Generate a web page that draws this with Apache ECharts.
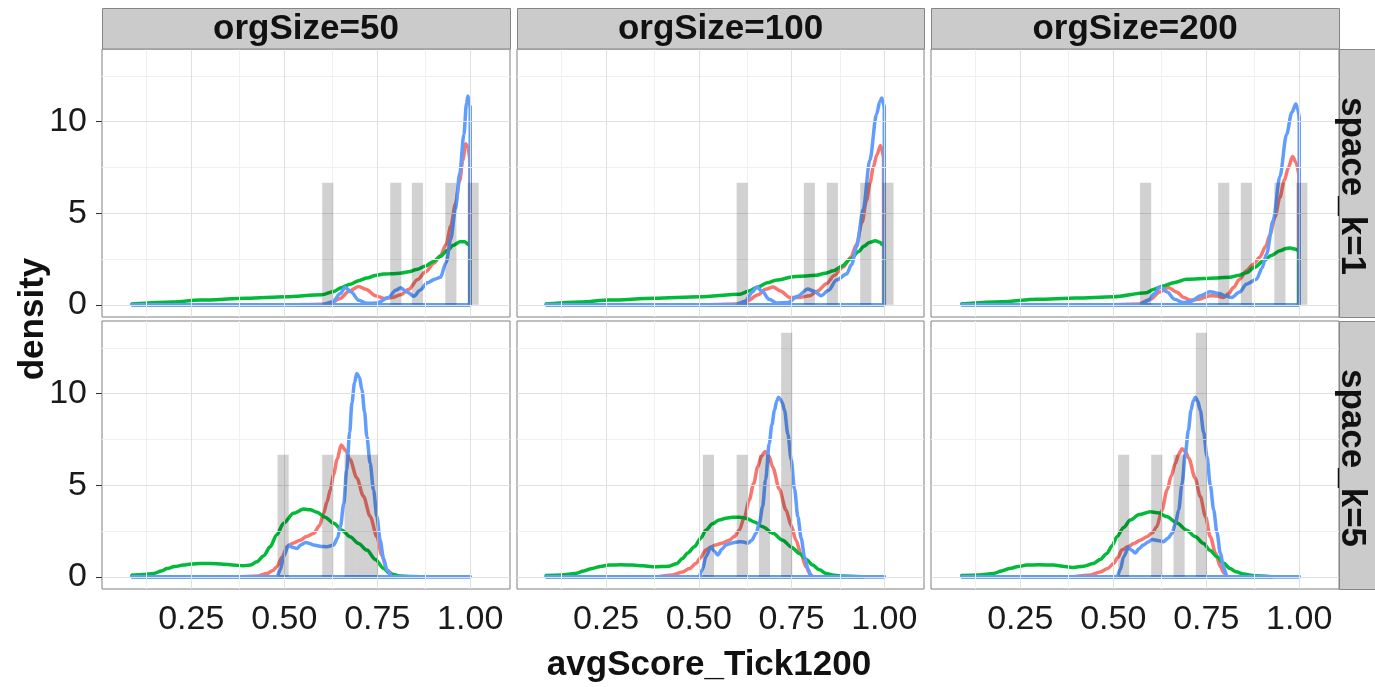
<!DOCTYPE html>
<html><head><meta charset="utf-8">
<script src="https://cdn.jsdelivr.net/npm/echarts@6/dist/echarts.min.js"></script>
<style>html,body{margin:0;padding:0;background:#fff}#c{width:1375px;height:687px}</style>
</head><body><div id="c"></div>
<script>
// ---------- labels / ticks ----------
const colLabels = ['orgSize=50', 'orgSize=100', 'orgSize=200'];
const rowLabels = ['space_k=1', 'space_k=5'];
const xTickValues = [0.25, 0.5, 0.75, 1.0];
const xTickLabels = ['0.25', '0.50', '0.75', '1.00'];
const xMinorValues = [0.125, 0.375, 0.625, 0.875];
const yTickValues = [0, 5, 10];
const yTickLabels = ['0', '5', '10'];
const yMinorValues = [2.5, 7.5, 12.5];
const xTitle = 'avgScore_Tick1200';
const yTitle = 'density';
const binWidth = 0.03;

// ---------- histogram bars: [bin centre, density] ----------
const bars_k1_50  = [[0.617,6.67],[0.800,6.67],[0.858,6.67],[0.948,6.67],[1.008,6.67]];
const bars_k1_100 = [[0.617,6.67],[0.798,6.67],[0.860,6.67],[0.950,6.67],[1.010,6.67]];
const bars_k1_200 = [[0.587,6.67],[0.797,6.67],[0.858,6.67],[0.948,6.67],[1.007,6.67]];
const bars_k5_50  = [[0.497,6.67],[0.617,6.67],[0.677,6.67],[0.707,6.67],[0.737,6.67]];
const bars_k5_100 = [[0.526,6.67],[0.617,6.67],[0.677,6.67],[0.737,13.33]];
const bars_k5_200 = [[0.528,6.67],[0.617,6.67],[0.677,6.67],[0.737,13.33]];

// ---------- density curves: [x, density] ----------
const red_k1_50 = [[0.534,0],[0.60,0.03],[0.625,0.1],[0.65,0.35],[0.675,0.75],[0.70,1.0],[0.72,0.85],[0.745,0.5],[0.77,0.35],[0.79,0.4],[0.813,0.55],[0.835,0.85],[0.858,1.37],[0.88,1.8],[0.903,2.28],[0.92,2.7],[0.935,3.3],[0.948,4.3],[0.96,5.5],[0.972,6.8],[0.98,7.9],[0.988,8.8],[0.994,8.6],[0.999,7.9]];
const green_k1_50 = [[0.091,0.04],[0.2,0.15],[0.274,0.26],[0.4,0.36],[0.503,0.44],[0.601,0.55],[0.633,0.73],[0.655,0.95],[0.677,1.13],[0.70,1.32],[0.722,1.46],[0.745,1.6],[0.767,1.68],[0.79,1.7],[0.811,1.73],[0.835,1.8],[0.856,1.93],[0.88,2.12],[0.901,2.37],[0.92,2.65],[0.937,2.95],[0.955,3.25],[0.973,3.45],[0.985,3.45],[0.995,3.3],[1.0,3.2]];
const blue_k1_50 = [[0.091,0],[0.60,0],[0.63,0.15],[0.65,0.6],[0.664,0.95],[0.68,0.7],[0.70,0.25],[0.722,0.08],[0.75,0.1],[0.78,0.4],[0.80,0.8],[0.813,0.93],[0.83,0.7],[0.849,0.47],[0.865,0.8],[0.885,1.2],[0.905,1.4],[0.92,1.5],[0.935,2.3],[0.948,3.6],[0.96,5.2],[0.972,7.2],[0.983,9.3],[0.99,11.0],[0.994,11.4],[0.998,10.9],[1.0,10.8]];

const red_k1_100 = [[0.529,0],[0.60,0.05],[0.63,0.2],[0.66,0.55],[0.68,0.85],[0.70,0.98],[0.72,0.75],[0.745,0.4],[0.77,0.4],[0.799,0.5],[0.82,0.75],[0.844,1.15],[0.865,1.6],[0.889,2.06],[0.91,2.6],[0.925,3.3],[0.94,4.5],[0.952,5.7],[0.962,6.7],[0.97,7.5],[0.98,8.2],[0.99,8.7],[0.998,8.05]];
const green_k1_100 = [[0.089,0.04],[0.18,0.15],[0.259,0.26],[0.38,0.36],[0.502,0.44],[0.611,0.58],[0.635,0.75],[0.656,0.95],[0.685,1.2],[0.71,1.35],[0.755,1.53],[0.79,1.58],[0.818,1.62],[0.84,1.72],[0.863,1.86],[0.885,2.1],[0.909,2.5],[0.93,2.9],[0.945,3.2],[0.96,3.4],[0.976,3.5],[0.988,3.42],[0.994,3.3],[1.0,3.25]];
const blue_k1_100 = [[0.089,0],[0.60,0],[0.625,0.2],[0.645,0.7],[0.656,0.98],[0.67,0.75],[0.69,0.3],[0.71,0.1],[0.74,0.12],[0.765,0.45],[0.794,0.86],[0.81,0.75],[0.83,0.5],[0.85,0.8],[0.871,1.35],[0.898,1.68],[0.912,2.2],[0.925,3.15],[0.943,5.2],[0.961,7.9],[0.979,10.4],[0.988,11.1],[0.993,11.3],[0.997,11.0],[1.0,10.8]];

const red_k1_200 = [[0.50,0],[0.57,0.05],[0.60,0.3],[0.625,0.7],[0.648,0.95],[0.67,0.7],[0.69,0.4],[0.706,0.26],[0.73,0.3],[0.76,0.5],[0.78,0.48],[0.796,0.4],[0.81,0.6],[0.823,0.95],[0.84,1.4],[0.858,1.86],[0.876,2.2],[0.894,2.6],[0.91,3.2],[0.921,3.8],[0.935,4.8],[0.948,5.86],[0.96,6.8],[0.971,7.5],[0.982,8.1],[0.991,7.8],[0.999,7.1]];
const green_k1_200 = [[0.093,0.04],[0.2,0.17],[0.295,0.3],[0.4,0.37],[0.50,0.44],[0.589,0.66],[0.61,0.85],[0.634,1.03],[0.665,1.22],[0.697,1.39],[0.742,1.44],[0.78,1.47],[0.814,1.51],[0.835,1.6],[0.858,1.75],[0.88,2.05],[0.903,2.39],[0.925,2.7],[0.948,2.95],[0.965,3.08],[0.975,3.1],[0.988,3.05],[0.999,2.95]];
const blue_k1_200 = [[0.093,0],[0.57,0],[0.595,0.25],[0.61,0.6],[0.626,0.98],[0.645,0.7],[0.665,0.3],[0.688,0.12],[0.71,0.2],[0.735,0.5],[0.76,0.72],[0.787,0.6],[0.80,0.5],[0.818,0.4],[0.84,0.7],[0.858,1.13],[0.885,1.39],[0.9,2.0],[0.912,2.76],[0.93,4.6],[0.948,7.0],[0.966,9.3],[0.98,10.5],[0.991,10.96],[0.996,10.7],[1.0,10.2]];

const red_k5_50 = [[0.386,0],[0.43,0.05],[0.453,0.18],[0.47,0.35],[0.48,0.55],[0.495,1.1],[0.507,1.64],[0.525,1.85],[0.543,2.0],[0.56,2.2],[0.579,2.37],[0.595,2.8],[0.606,3.47],[0.615,4.1],[0.624,4.75],[0.633,5.6],[0.642,6.4],[0.653,7.2],[0.665,6.9],[0.677,6.4],[0.695,5.4],[0.713,4.4],[0.731,3.3],[0.749,2.2],[0.762,1.2],[0.776,0.37],[0.794,0.1],[0.80,0]];
const green_k5_50 = [[0.091,0.09],[0.12,0.12],[0.149,0.18],[0.17,0.32],[0.185,0.45],[0.205,0.56],[0.229,0.64],[0.25,0.7],[0.274,0.73],[0.30,0.73],[0.337,0.69],[0.36,0.65],[0.39,0.6],[0.41,0.65],[0.426,0.82],[0.445,1.15],[0.462,1.64],[0.48,2.3],[0.498,2.92],[0.525,3.47],[0.552,3.7],[0.57,3.66],[0.588,3.53],[0.61,3.25],[0.633,2.92],[0.655,2.55],[0.677,2.19],[0.70,1.82],[0.722,1.46],[0.745,0.95],[0.767,0.46],[0.785,0.15],[0.812,0.05],[0.84,0.02],[0.879,0]];
const blue_k5_50 = [[0.091,0],[0.48,0],[0.49,0.4],[0.498,1.1],[0.512,1.74],[0.522,1.62],[0.534,1.55],[0.545,1.75],[0.557,1.88],[0.568,1.82],[0.579,1.74],[0.60,1.66],[0.615,1.64],[0.633,1.74],[0.643,2.1],[0.651,2.74],[0.66,4.0],[0.668,5.85],[0.676,7.9],[0.682,9.5],[0.689,10.6],[0.695,11.1],[0.702,10.9],[0.709,10.2],[0.716,9.0],[0.722,7.66],[0.731,6.2],[0.74,4.74],[0.749,3.3],[0.758,2.0],[0.767,1.0],[0.776,0.37],[0.79,0],[1.0,0]];

const red_k5_100 = [[0.39,0],[0.43,0.1],[0.456,0.27],[0.475,0.45],[0.492,0.73],[0.505,1.05],[0.519,1.46],[0.532,1.62],[0.546,1.74],[0.565,1.85],[0.582,2.0],[0.596,2.2],[0.609,2.55],[0.622,3.2],[0.636,4.2],[0.648,5.1],[0.659,6.02],[0.669,6.6],[0.679,6.84],[0.689,6.6],[0.699,6.0],[0.717,4.8],[0.735,3.65],[0.749,2.8],[0.762,2.0],[0.776,1.2],[0.789,0.55],[0.80,0.15],[0.807,0]];
const green_k5_100 = [[0.089,0.07],[0.13,0.1],[0.168,0.18],[0.19,0.32],[0.213,0.46],[0.235,0.57],[0.258,0.64],[0.29,0.66],[0.321,0.64],[0.35,0.6],[0.375,0.55],[0.40,0.56],[0.42,0.58],[0.44,0.72],[0.456,1.0],[0.47,1.3],[0.488,1.64],[0.505,2.1],[0.519,2.55],[0.537,2.9],[0.555,3.1],[0.573,3.2],[0.591,3.25],[0.61,3.25],[0.627,3.2],[0.65,3.0],[0.672,2.74],[0.70,2.38],[0.726,2.0],[0.75,1.62],[0.771,1.28],[0.79,0.95],[0.807,0.64],[0.825,0.38],[0.843,0.18],[0.865,0.08],[0.888,0.05],[0.942,0]];
const blue_k5_100 = [[0.089,0],[0.50,0],[0.51,0.4],[0.519,1.1],[0.533,1.64],[0.542,1.4],[0.551,1.19],[0.562,1.5],[0.573,1.74],[0.59,1.85],[0.609,1.92],[0.62,1.9],[0.632,1.83],[0.643,2.0],[0.654,2.37],[0.663,2.9],[0.672,3.83],[0.68,5.3],[0.69,7.3],[0.697,8.3],[0.704,9.1],[0.71,9.6],[0.715,9.8],[0.72,9.7],[0.725,9.5],[0.731,9.1],[0.74,7.8],[0.749,6.4],[0.758,4.8],[0.767,3.28],[0.776,2.1],[0.785,1.1],[0.795,0.4],[0.803,0],[1.0,0]];

const red_k5_200 = [[0.393,0],[0.44,0.1],[0.465,0.27],[0.485,0.45],[0.501,0.73],[0.512,1.05],[0.523,1.46],[0.54,1.65],[0.555,1.82],[0.573,2.0],[0.591,2.19],[0.605,2.4],[0.617,2.74],[0.63,3.6],[0.645,4.75],[0.656,5.5],[0.667,6.2],[0.676,6.7],[0.685,7.0],[0.694,6.85],[0.703,6.48],[0.72,5.4],[0.734,4.38],[0.748,3.3],[0.761,2.19],[0.775,1.3],[0.788,0.55],[0.798,0.2],[0.806,0]];
const green_k5_200 = [[0.093,0.07],[0.14,0.1],[0.178,0.18],[0.2,0.32],[0.222,0.46],[0.245,0.56],[0.267,0.64],[0.30,0.66],[0.339,0.64],[0.37,0.57],[0.393,0.51],[0.42,0.58],[0.447,0.73],[0.465,0.95],[0.483,1.28],[0.497,1.7],[0.51,2.19],[0.528,2.7],[0.546,3.1],[0.57,3.4],[0.6,3.56],[0.62,3.5],[0.645,3.28],[0.67,2.95],[0.698,2.55],[0.72,2.2],[0.743,1.82],[0.76,1.45],[0.779,1.1],[0.796,0.75],[0.814,0.46],[0.83,0.28],[0.85,0.15],[0.88,0.06],[0.926,0]];
const blue_k5_200 = [[0.093,0],[0.51,0],[0.519,0.4],[0.528,1.1],[0.541,1.6],[0.55,1.45],[0.559,1.3],[0.57,1.55],[0.581,1.74],[0.594,1.9],[0.604,2.04],[0.62,1.98],[0.635,1.92],[0.647,2.1],[0.658,2.37],[0.667,2.9],[0.676,3.65],[0.685,5.1],[0.694,6.75],[0.702,8.0],[0.709,9.1],[0.715,9.6],[0.721,9.8],[0.727,9.6],[0.734,9.1],[0.743,7.9],[0.752,6.57],[0.761,5.0],[0.77,3.65],[0.779,2.4],[0.788,1.28],[0.797,0.5],[0.806,0],[1.0,0]];

// ---------- layout / style ----------
const FONT = '"Liberation Sans", Arial, sans-serif';
const X_MIN = 0.01, X_MAX = 1.107, Y_MIN = -0.665, Y_MAX = 13.97;
const colLeft = [102, 517, 931], colW = [408, 407, 408];
const rowTop = [49, 321], rowH = 268;
const COLORS = {red: '#F8766D', green: '#00BA38', blue: '#619CFF'};
const LW = 3.5;

const panels = [
  {r:0,c:0,red:red_k1_50, green:green_k1_50, blue:blue_k1_50, bars:bars_k1_50},
  {r:0,c:1,red:red_k1_100,green:green_k1_100,blue:blue_k1_100,bars:bars_k1_100},
  {r:0,c:2,red:red_k1_200,green:green_k1_200,blue:blue_k1_200,bars:bars_k1_200},
  {r:1,c:0,red:red_k5_50, green:green_k5_50, blue:blue_k5_50, bars:bars_k5_50},
  {r:1,c:1,red:red_k5_100,green:green_k5_100,blue:blue_k5_100,bars:bars_k5_100},
  {r:1,c:2,red:red_k5_200,green:green_k5_200,blue:blue_k5_200,bars:bars_k5_200}
];

const grids = [], xAxes = [], yAxes = [], series = [], graphics = [];
panels.forEach((p, i) => {
  const bottom = p.r === 1, left = p.c === 0;
  grids.push({left: colLeft[p.c], top: rowTop[p.r], width: colW[p.c], height: rowH,
    show: true, backgroundColor: '#ffffff', borderColor: '#808080', borderWidth: 1});
  xAxes.push({type: 'value', gridIndex: i, min: X_MIN, max: X_MAX,
    axisLine: {show: false}, splitLine: {show: false},
    axisTick: {show: bottom, customValues: xTickValues, length: 6, lineStyle: {color: '#333', width: 1}},
    axisLabel: {show: bottom, customValues: xTickValues,
      formatter: v => xTickLabels[xTickValues.findIndex(t => Math.abs(t - v) < 1e-9)],
      fontSize: 34, color: '#1a1a1a', fontFamily: FONT, margin: 14}});
  yAxes.push({type: 'value', gridIndex: i, min: Y_MIN, max: Y_MAX,
    axisLine: {show: false}, splitLine: {show: false},
    axisTick: {show: left, customValues: yTickValues, length: 6, lineStyle: {color: '#333', width: 1}},
    axisLabel: {show: left, customValues: yTickValues,
      formatter: v => yTickLabels[yTickValues.findIndex(t => Math.abs(t - v) < 1e-9)],
      fontSize: 34, color: '#1a1a1a', fontFamily: FONT, margin: 15}});

  // panel grid lines
  const ml = [];
  xMinorValues.forEach(v => ml.push({xAxis: v, lineStyle: {color: '#f0f0f0', width: 1, type: 'solid'}}));
  yMinorValues.forEach(v => ml.push({yAxis: v, lineStyle: {color: '#f0f0f0', width: 1, type: 'solid'}}));
  xTickValues.forEach(v => ml.push({xAxis: v, lineStyle: {color: '#e0e0e0', width: 1, type: 'solid'}}));
  yTickValues.forEach(v => ml.push({yAxis: v, lineStyle: {color: '#e0e0e0', width: 1, type: 'solid'}}));
  series.push({type: 'line', xAxisIndex: i, yAxisIndex: i, data: [[0.5, 0]], symbol: 'none',
    lineStyle: {opacity: 0}, silent: true, animation: false, z: 1,
    markLine: {silent: true, symbol: ['none', 'none'], label: {show: false}, animation: false, data: ml}});

  ['red', 'green', 'blue'].forEach((k, j) => {
    const d = p[k];
    const first = d[0], last = d[d.length - 1];
    series.push({type: 'line', xAxisIndex: i, yAxisIndex: i, data: d, symbol: 'none', showSymbol: false,
      smooth: 0.3, smoothMonotone: 'x', lineStyle: {color: COLORS[k], width: LW, join: 'round', cap: 'round'},
      animation: false, z: 2 + j, silent: true});
    series.push({type: 'line', xAxisIndex: i, yAxisIndex: i,
      data: [[last[0], last[1]], [last[0], 0], [first[0], 0], [first[0], first[1]]],
      symbol: 'none', showSymbol: false, lineStyle: {color: COLORS[k], width: LW, join: 'round', cap: 'round'},
      animation: false, z: 2 + j, silent: true});
  });

  series.push({type: 'custom', xAxisIndex: i, yAxisIndex: i, data: p.bars, z: 6, silent: true, animation: false,
    renderItem: (params, api) => {
      const c = api.value(0), h = api.value(1);
      const a = api.coord([c - binWidth / 2, h]);
      const b = api.coord([c + binWidth / 2, 0]);
      return {type: 'rect', shape: {x: a[0], y: a[1], width: b[0] - a[0], height: b[1] - a[1]},
        style: {fill: 'rgba(0,0,0,0.18)'}};
    }});
});

// strips
colLabels.forEach((t, c) => {
  graphics.push({type: 'rect', shape: {x: colLeft[c] + 0.5, y: 8.5, width: colW[c], height: 40.5},
    style: {fill: '#cbcbcb', stroke: '#858585', lineWidth: 1}, z: 10});
  graphics.push({type: 'text', x: colLeft[c] + colW[c] / 2, y: 29, z: 11,
    style: {text: t, fill: '#111', font: 'bold 35px ' + FONT, textAlign: 'center', textVerticalAlign: 'middle'}});
});
rowLabels.forEach((t, r) => {
  graphics.push({type: 'rect', shape: {x: 1339.5, y: rowTop[r] + 0.5, width: 45, height: rowH},
    style: {fill: '#cbcbcb', stroke: '#858585', lineWidth: 1}, z: 10});
  graphics.push({type: 'text', x: 1352, y: rowTop[r] + rowH / 2 + 3, rotation: -Math.PI / 2, z: 11,
    style: {text: t, fill: '#111', font: 'bold 35px ' + FONT, textAlign: 'center', textVerticalAlign: 'middle'}});
});
// axis titles
graphics.push({type: 'text', x: 709, y: 665, z: 11,
  style: {text: xTitle, fill: '#111', font: 'bold 35px ' + FONT, textAlign: 'center', textVerticalAlign: 'middle'}});
graphics.push({type: 'text', x: 33, y: 319, rotation: Math.PI / 2, z: 11,
  style: {text: yTitle, fill: '#111', font: 'bold 35px ' + FONT, textAlign: 'center', textVerticalAlign: 'middle'}});

const chart = echarts.init(document.getElementById('c'));
chart.setOption({
  animation: false,
  backgroundColor: '#ffffff',
  grid: grids, xAxis: xAxes, yAxis: yAxes, series: series, graphic: graphics
});
</script></body></html>
